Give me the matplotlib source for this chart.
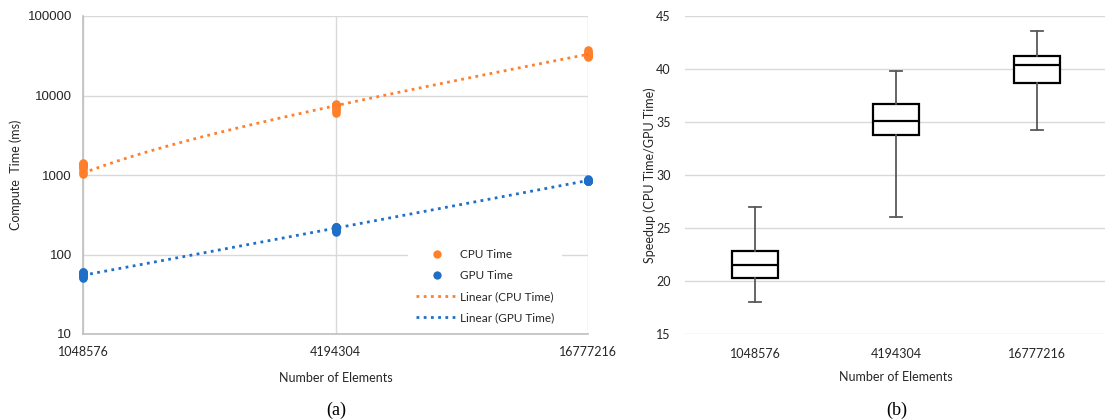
import numpy as np
import matplotlib
matplotlib.use("Agg")
import matplotlib.pyplot as plt
from matplotlib.lines import Line2D

plt.rcParams['font.family'] = ['Lato', 'DejaVu Sans']

# ---- data ----
elements = [1048576, 4194304, 16777216]
elem_labels = ['1048576', '4194304', '16777216']

# compute times (ms), several runs per size
cpu_1m = [1020, 1100, 1180, 1250, 1300, 1340, 1370, 1390, 1400]
cpu_4m = [6000, 6400, 6800, 7150, 7500, 7550, 7600, 7650, 7700, 7750]
cpu_16m = [30400, 31000, 31500, 32000, 32400, 32800, 33200, 34000, 35500, 37500]
gpu_1m = [50, 52, 54, 56, 57, 58, 58.5, 59, 59.5, 60]
gpu_4m = [190, 198, 206, 212, 216, 219, 221, 223, 225]
gpu_16m = [830, 835, 840, 845, 848, 850, 855, 875, 900]

# speedup box stats: whisker low, q1, median, q3, whisker high
sp_low = [18.0, 26.0, 34.2]
sp_q1 = [20.3, 33.8, 38.7]
sp_med = [21.5, 35.1, 40.4]
sp_q3 = [22.8, 36.7, 41.2]
sp_high = [27.0, 39.8, 43.6]

orange = '#FF7F2A'
blue = '#1F6FC8'
grid_c = '#D9D9D9'
txt_c = '#262626'

fig = plt.figure(figsize=(11.05, 4.2), dpi=100)

# ---------- (a) ----------
ax = fig.add_axes([83 / 1105, 1 - 334 / 420, 505 / 1105, 318 / 420])
ax.set_xscale('log', base=2)
ax.set_yscale('log')
ax.set_xlim(elements[0], elements[-1])
ax.set_ylim(10, 100000)

cpu_sets = [cpu_1m, cpu_4m, cpu_16m]
gpu_sets = [gpu_1m, gpu_4m, gpu_16m]
cx = np.concatenate([[e] * len(v) for e, v in zip(elements, cpu_sets)])
cy = np.concatenate(cpu_sets)
gx = np.concatenate([[e] * len(v) for e, v in zip(elements, gpu_sets)])
gy = np.concatenate(gpu_sets)

# linear trendlines (least squares, as Excel does)
xx = np.geomspace(elements[0], elements[-1], 200)
cfit = np.polyfit(cx, cy, 1)
gfit = np.polyfit(gx, gy, 1)
ax.plot(xx, np.polyval(cfit, xx), color=orange, lw=2, ls=(0, (1, 1.6)), zorder=3)
ax.plot(xx, np.polyval(gfit, xx), color=blue, lw=2, ls=(0, (1, 1.6)), zorder=3)

ax.scatter(cx, cy, s=38, color=orange, zorder=4, clip_on=False, lw=0)
ax.scatter(gx, gy, s=38, color=blue, zorder=4, clip_on=False, lw=0)

ax.set_xticks(elements)
ax.set_xticklabels(elem_labels)
ax.xaxis.set_minor_locator(matplotlib.ticker.NullLocator())
ax.yaxis.set_minor_locator(matplotlib.ticker.NullLocator())
ax.set_yticks([10, 100, 1000, 10000, 100000])
ax.set_yticklabels(['10', '100', '1000', '10000', '100000'],
                   family=['Liberation Sans', 'DejaVu Sans'])
ax.grid(True, color=grid_c, lw=1)
ax.set_axisbelow(True)
ax.tick_params(length=0, labelsize=9, colors=txt_c, pad=9)
ax.tick_params(axis='y', labelsize=9.5, pad=8)
for s in ['top', 'right']:
    ax.spines[s].set_visible(False)
for s in ['left', 'bottom']:
    ax.spines[s].set_color('#BFBFBF')
    ax.spines[s].set_linewidth(1.2)
ax.set_xlabel('Number of Elements', fontsize=9, color=txt_c, labelpad=10)
ax.set_ylabel('Compute  Time (ms)', fontsize=9, color=txt_c, labelpad=4)

handles = [
    Line2D([], [], ls='none', marker='o', ms=6, color=orange, mew=0),
    Line2D([], [], ls='none', marker='o', ms=6, color=blue, mew=0),
    Line2D([], [], color=orange, lw=2, ls=(0, (1, 1.6))),
    Line2D([], [], color=blue, lw=2, ls=(0, (1, 1.6))),
]
labels = ['CPU Time', 'GPU Time', 'Linear (CPU Time)', 'Linear (GPU Time)']
leg = ax.legend(handles, labels, loc='lower right', bbox_to_anchor=(0.955, 0.0),
                fontsize=8.5, frameon=True,
                facecolor='white', edgecolor='none', framealpha=1,
                handlelength=3.6, labelspacing=0.85, borderaxespad=0.3,
                handletextpad=0.2, fancybox=False, borderpad=0.6)
for t in leg.get_texts():
    t.set_color(txt_c)

# ---------- (b) ----------
ax2 = fig.add_axes([684.5 / 1105, 1 - 334 / 420, 423 / 1105, 318 / 420])
stats = []
for i in range(3):
    stats.append(dict(whislo=sp_low[i], q1=sp_q1[i], med=sp_med[i],
                      q3=sp_q3[i], whishi=sp_high[i], fliers=[]))
ax2.bxp(stats, positions=[1, 2, 3], widths=0.32, capwidths=0.08,
        showfliers=False, patch_artist=True,
        boxprops=dict(facecolor='white', edgecolor='black', lw=1.6),
        medianprops=dict(color='black', lw=1.6),
        whiskerprops=dict(color='#595959', lw=1.3),
        capprops=dict(color='#595959', lw=1.3))
ax2.set_xlim(0.5, 3.5)
ax2.set_ylim(15, 45)
ax2.set_yticks([15, 20, 25, 30, 35, 40, 45])
ax2.set_xticks([1, 2, 3])
ax2.set_xticklabels(elem_labels)
ax2.yaxis.grid(True, color=grid_c, lw=1)
ax2.set_axisbelow(True)
for s in ax2.spines.values():
    s.set_visible(False)
ax2.tick_params(length=0, labelsize=9, colors=txt_c, pad=10)
ax2.tick_params(axis='y', pad=10)
ax2.set_xlabel('Number of Elements', fontsize=9, color=txt_c, labelpad=8)
ax2.set_ylabel('Speedup (CPU Time/GPU Time)', fontsize=9, color=txt_c, labelpad=0)

fig.text(336 / 1105, 1 - 410 / 420, '(a)', ha='center', va='center',
         fontsize=13, family=['Liberation Serif', 'DejaVu Serif'])
fig.text(897 / 1105, 1 - 410 / 420, '(b)', ha='center', va='center',
         fontsize=13, family=['Liberation Serif', 'DejaVu Serif'])

fig.savefig('out.png', dpi=100)
